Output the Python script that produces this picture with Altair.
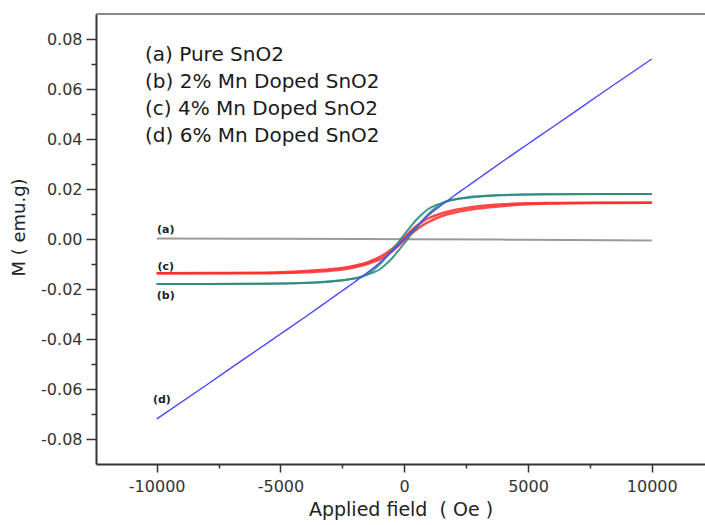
import altair as alt
import pandas as pd

# ---- data ----
H_grid = [-10000, -8000, -6000, -5000, -4000, -3000, -2500, -2000, -1750, -1500, -1250,
          -1000, -750, -500, -250, 0, 250, 500, 750, 1000, 1250, 1500, 1750, 2000,
          2500, 3000, 4000, 5000, 6000, 8000, 10000]

# (a) Pure SnO2
H_a = [-10000, -5000, 0, 5000, 10000]
M_a = [0.0002, 0.0001, -0.0001, -0.0003, -0.0006]

# (b) 2% Mn doped - ascending and descending branches
M_b_up = [-0.0180, -0.0180, -0.0179, -0.0178, -0.0176, -0.0171, -0.0166, -0.0157, -0.0151,
          -0.0143, -0.0134, -0.0122, -0.0102, -0.0078, -0.0048, -0.0018, 0.0015, 0.0045,
          0.0075, 0.0102, 0.0124, 0.0141, 0.0153, 0.0158, 0.0164, 0.0169, 0.0175, 0.0178,
          0.0179, 0.0180, 0.0180]
M_b_down = [-0.0180, -0.0180, -0.0179, -0.0178, -0.0175, -0.0169, -0.0164, -0.0158, -0.0153,
            -0.0141, -0.0124, -0.0102, -0.0075, -0.0045, -0.0015, 0.0018, 0.0048, 0.0078,
            0.0102, 0.0122, 0.0134, 0.0143, 0.0151, 0.0157, 0.0166, 0.0171, 0.0176, 0.0178,
            0.0179, 0.0180, 0.0180]

# (c) 4% Mn doped
M_c_up = [-0.0137, -0.0137, -0.0137, -0.0136, -0.0133, -0.0127, -0.0122, -0.0113, -0.0107,
          -0.0100, -0.0091, -0.0082, -0.0068, -0.0050, -0.0028, -0.0006, 0.0018, 0.0038,
          0.0055, 0.0069, 0.0081, 0.0091, 0.0099, 0.0105, 0.0115, 0.0122, 0.0132, 0.0139,
          0.0142, 0.0144, 0.0145]
M_c_down = [-0.0137, -0.0136, -0.0135, -0.0133, -0.0128, -0.0121, -0.0116, -0.0107, -0.0101,
            -0.0094, -0.0084, -0.0072, -0.0058, -0.0040, -0.0020, 0.0006, 0.0030, 0.0052,
            0.0070, 0.0084, 0.0094, 0.0102, 0.0109, 0.0115, 0.0124, 0.0131, 0.0139, 0.0143,
            0.0144, 0.0145, 0.0145]

# (d) 6% Mn doped
M_d = [-0.0720, -0.0585, -0.0448, -0.0380, -0.0312, -0.0242, -0.0207, -0.0172, -0.0153,
       -0.0135, -0.0116, -0.0096, -0.0074, -0.0050, -0.0025, 0.0000, 0.0025, 0.0050,
       0.0074, 0.0096, 0.0116, 0.0135, 0.0153, 0.0172, 0.0207, 0.0242, 0.0312, 0.0380,
       0.0448, 0.0585, 0.0720]

legend_lines = ["(a) Pure SnO2", "(b) 2% Mn Doped SnO2", "(c) 4% Mn Doped SnO2", "(d) 6% Mn Doped SnO2"]

curve_labels = ["(a)", "(c)", "(b)", "(d)"]
curve_label_H = [-9630, -9630, -9630, -9790]
curve_label_M = [0.0037, -0.0111, -0.0227, -0.0643]

x_ticks = [-10000, -7500, -5000, -2500, 0, 2500, 5000, 7500, 10000]
y_ticks = [-0.08, -0.07, -0.06, -0.05, -0.04, -0.03, -0.02, -0.01, 0.0,
           0.01, 0.02, 0.03, 0.04, 0.05, 0.06, 0.07, 0.08]

W, HGT = 609, 450
FONT = "DejaVu Sans"

xscale = alt.Scale(domain=[-12450, 12150], nice=False, zero=False)
yscale = alt.Scale(domain=[-0.09, 0.09], nice=False, zero=False)

x_axis = alt.Axis(
    values=x_ticks,
    labelExpr="datum.value % 5000 === 0 ? '' + datum.value : ''",
    tickSize={"condition": {"test": "datum.value % 5000 === 0", "value": 8}, "value": 4},
    tickColor="#333", tickWidth=1.5,
    domainColor="#333", domainWidth=2,
    labelFont=FONT, labelFontSize=16, labelColor="#333", labelPadding=6,
    labelOverlap=False, labelFlush=False,
    title="Applied field \u00a0( Oe )", titleFont=FONT, titleFontSize=19,
    titleFontWeight="normal", titleColor="#222", titlePadding=6, grid=False,
)
y_axis = alt.Axis(
    values=y_ticks,
    labelExpr="abs(round(datum.value*100)) % 2 === 0 ? replace(format(datum.value, '.2f'), '\u2212', '-') : ''",
    tickSize={"condition": {"test": "abs(round(datum.value*100)) % 2 === 0", "value": 10}, "value": 5},
    tickColor="#333", tickWidth=1.5,
    domainColor="#333", domainWidth=2,
    labelFont=FONT, labelFontSize=16, labelColor="#333", labelPadding=4,
    labelOverlap=False, labelFlush=False,
    title="M ( emu.g)", titleFont=FONT, titleFontSize=18, titleFontWeight="normal",
    titleColor="#222", titleAngle=-90, titleX=-77, titleY=213,
    titleAlign="center", titleBaseline="middle", grid=False,
)


def branch_df(H, M, name):
    return pd.DataFrame({"H": H, "M": M, "branch": name, "i": range(len(H))})


def curve(df, color, width, opacity=1.0):
    return alt.Chart(df).mark_line(
        color=color, strokeWidth=width, opacity=opacity, interpolate="monotone"
    ).encode(
        x=alt.X("H:Q", scale=xscale, axis=x_axis),
        y=alt.Y("M:Q", scale=yscale, axis=y_axis),
        detail="branch:N",
        order="i:Q",
    )


df_a = branch_df(H_a, M_a, "a")
df_b = pd.concat([branch_df(H_grid, M_b_up, "up"), branch_df(H_grid, M_b_down, "down")])
df_c = pd.concat([branch_df(H_grid, M_c_up, "up"), branch_df(H_grid, M_c_down, "down")])
df_d = branch_df(H_grid, M_d, "d")

layer_a = curve(df_a, "#9a9a9a", 2)
layer_c = curve(df_c, "#ff2a2a", 2.5, opacity=0.85)
layer_b = curve(df_b, "#2e8c80", 2, opacity=0.9)
layer_d = curve(df_d, "#4a4aff", 1.5)

top_frame = alt.Chart(pd.DataFrame({"d": [0]})).mark_rule(color="#888", strokeWidth=2).encode(
    x=alt.value(0), x2=alt.value(W), y=alt.value(0)
)

legend = alt.Chart(pd.DataFrame({"t": ["\n".join(legend_lines)]})).mark_text(
    align="left", baseline="top", lineBreak="\n", lineHeight=27,
    font=FONT, fontSize=20, color="#1a1a1a"
).encode(x=alt.value(49), y=alt.value(31), text="t:N")

labels = alt.Chart(pd.DataFrame({"t": curve_labels, "H": curve_label_H, "M": curve_label_M})).mark_text(
    font=FONT, fontSize=11, fontWeight="bold", color="#222"
).encode(
    x=alt.X("H:Q", scale=xscale, axis=x_axis),
    y=alt.Y("M:Q", scale=yscale, axis=y_axis),
    text="t:N",
)

chart = alt.layer(layer_a, layer_c, layer_b, layer_d, top_frame, legend, labels).properties(
    width=W, height=HGT,
    autosize=alt.AutoSizeParams(type="none"),
    padding={"left": 96, "top": 14, "right": 0, "bottom": 61},
).configure_view(strokeWidth=0)

chart.save("out.html", embed_options={"renderer": "svg", "actions": False})
